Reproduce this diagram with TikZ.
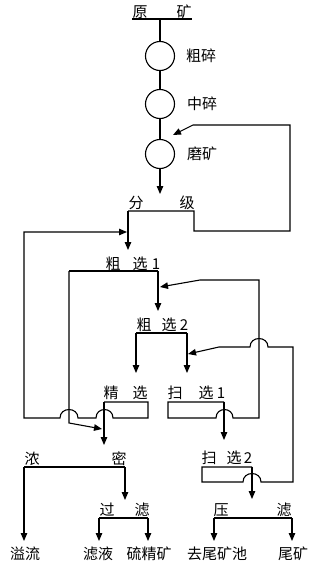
\documentclass[tikz,border=0pt]{standalone}
\usepackage{fontspec}
\setmainfont{Noto Sans CJK SC}
\usetikzlibrary{arrows.meta}
\tikzset{
  ln/.style={line width=1.1pt, line join=miter},
  arr/.style={ln, -{Triangle[length=8pt,width=6.5pt]}},
  lbl/.style={inner sep=0pt, font=\fontsize{15pt}{15pt}\selectfont},
  mill/.style={circle, draw, line width=1.1pt, minimum size=29pt, inner sep=0pt}
}
\begin{document}
\begin{tikzpicture}[x=1pt,y=-1pt]
\useasboundingbox (0,0) rectangle (323,570);
% --- labels
\node[lbl] (t1a) at (140,12) {原};
\node[lbl] (t1b) at (184,12) {矿};
\node[lbl] (l1) at (201,56) {粗碎};
\node[lbl] (l2) at (202,104) {中碎};
\node[lbl] (l3) at (202,154) {磨矿};
\node[lbl] (f1) at (136,203) {分};
\node[lbl] (f2) at (187,203) {级};
\node[lbl] (r1a) at (113,264) {粗};
\node[lbl] (r1b) at (140,264) {选};
\node[lbl] (r1c) at (156,264) {1};
\node[lbl] (r2a) at (144,325) {粗};
\node[lbl] (r2b) at (169,325) {选};
\node[lbl] (r2c) at (184,325) {2};
\node[lbl] (j1) at (111,393) {精};
\node[lbl] (j2) at (140,393) {选};
\node[lbl] (s1a) at (175,393) {扫};
\node[lbl] (s1b) at (206,393) {选};
\node[lbl] (s1c) at (221,393) {1};
\node[lbl] (s2a) at (209,458) {扫};
\node[lbl] (s2b) at (234,458) {选};
\node[lbl] (s2c) at (248,458) {2};
\node[lbl] (n1) at (32,459) {浓};
\node[lbl] (n2) at (119,459) {密};
\node[lbl] (g1) at (107,510) {过};
\node[lbl] (g2) at (142,510) {滤};
\node[lbl] (y1) at (221,510) {压};
\node[lbl] (y2) at (284,510) {滤};
\node[lbl] (o1) at (25,554) {溢流};
\node[lbl] (o2) at (98,554) {滤液};
\node[lbl] (o3) at (149,554) {硫精矿};
\node[lbl] (o4) at (217,554) {去尾矿池};
\node[lbl] (o5) at (293,554) {尾矿};
% --- mills
\node[mill] (c1) at (160,56) {};
\node[mill] (c2) at (160,104) {};
\node[mill] (c3) at (160,154) {};
% --- key points
\coordinate (ore) at (160,19);
\coordinate (fenT) at (160,194);
\coordinate (millIn) at (173,135);
\coordinate (r1T) at (128,250);
\coordinate (r1L) at (69,271);
\coordinate (r1R) at (158,271);
\coordinate (r2T) at (158,311);
\coordinate (r2In) at (160,287);
\coordinate (r2L) at (136,333);
\coordinate (r2R) at (187,333);
\coordinate (jT) at (136,373);
\coordinate (s1T) at (187,373);
\coordinate (s1In) at (188,354);
\coordinate (jL) at (104,402);
\coordinate (s1R) at (224,402);
\coordinate (thickIn) at (102,429);
\coordinate (nT) at (104,445);
\coordinate (s2T) at (224,440);
\coordinate (s2R) at (252,467);
\coordinate (nL) at (24,467);
\coordinate (nR) at (125,467);
\coordinate (gT) at (125,500);
\coordinate (yT) at (252,499);
\coordinate (gL) at (99,518);
\coordinate (gR) at (148,518);
\coordinate (yL) at (214,518);
\coordinate (yR) at (292,518);
% --- bars and feed line
\draw[ln] (132,19) -- (192,19);
\draw[ln] (ore) -- (c1.north);
\draw[ln] (c1.south) -- (c2.north);
\draw[ln] (c2.south) -- (c3.north);
\draw[arr] (c3.south) -- (fenT);
% classifier with return to mill
\draw[arr] (128,211) -- (194,211) -- (194,231) -- (290,231) -- (290,125) -- (193,125) -- (millIn);
\draw[arr] (128,211) -- (r1T);
% cleaner tailings return to classifier
\draw[arr] (jL) -- (148,402) -- (148,418) -- (113,418)
  .. controls (113,406.7) and (96,406.7) .. (96,418) -- (78,418)
  .. controls (78,406.7) and (60,406.7) .. (60,418) -- (24,418) -- (24,232) -- (127,232);
% rougher 1
\draw[ln] (r1L) -- (r1R);
\draw[arr] (r1R) -- (r2T);
\draw[arr] (r1L) -- (69,423) -- (thickIn);
% scavenger 1 return
\draw[arr] (s1R) -- (168,402) -- (168,418) -- (216,418)
  .. controls (216,406.7) and (233,406.7) .. (233,418) -- (259,418) -- (259,280) -- (200,280) -- (r2In);
% rougher 2
\draw[ln] (r2L) -- (r2R);
\draw[arr] (r2L) -- (jT);
\draw[arr] (r2R) -- (s1T);
% scavenger 2 return
\draw[arr] (s2R) -- (202,467) -- (202,482) -- (243,482)
  .. controls (243,470.7) and (261,470.7) .. (261,482) -- (293,482) -- (293,347) -- (268,347)
  .. controls (268,335.7) and (250,335.7) .. (250,347) -- (219,347) -- (s1In);
% outputs
\draw[arr] (jL) -- (nT);
\draw[arr] (s1R) -- (s2T);
\draw[arr] (s2R) -- (yT);
% thickener
\draw[ln] (nL) -- (nR);
\draw[arr] (nL) -- (24,541);
\draw[arr] (nR) -- (gT);
% filter
\draw[ln] (gL) -- (gR);
\draw[arr] (gL) -- (99,541);
\draw[arr] (gR) -- (148,541);
% press filter
\draw[ln] (yL) -- (yR);
\draw[arr] (yL) -- (214,541);
\draw[arr] (yR) -- (292,541);
\end{tikzpicture}
\end{document}
